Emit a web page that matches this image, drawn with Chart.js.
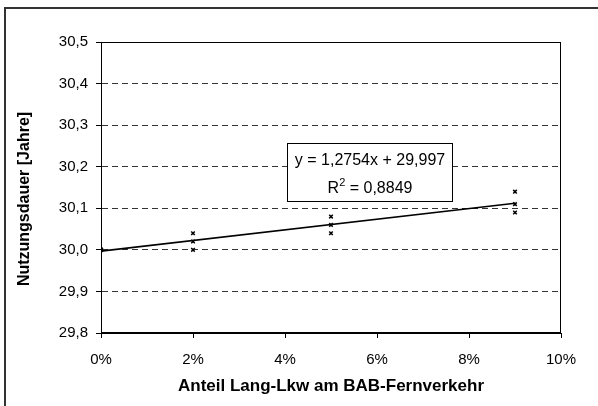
<!DOCTYPE html>
<html><head><meta charset="utf-8">
<script src="https://cdn.jsdelivr.net/npm/chart.js@4/dist/chart.umd.min.js"></script>
<style>html,body{margin:0;padding:0;background:#fff}canvas{display:block}</style>
</head><body>
<canvas id="c" width="598" height="406"></canvas>
<script>
// Data
const shareLangLkw = [0, 0, 0, 2, 2, 2, 5, 5, 5, 9, 9, 9];           // % Anteil Lang-Lkw
const nutzungsdauer = [30.00, 30.00, 30.00, 30.00, 30.02, 30.04, 30.04, 30.06, 30.08, 30.09, 30.11, 30.14];
const trendX = [0, 9];
const trendY = [29.997, 30.112];
const yMin = 29.8, yMax = 30.5, yStep = 0.1;
const xMin = 0, xMax = 10, xStep = 2;
const xTitle = 'Anteil Lang-Lkw am BAB-Fernverkehr';
const yTitle = 'Nutzungsdauer [Jahre]';
const eqLine1 = 'y = 1,2754x + 29,997';
const eqLine2a = 'R', eqLine2sup = '2', eqLine2b = ' = 0,8849';

const FONT = "'Liberation Sans', Arial, sans-serif";

const decor = {
  id: 'decor',
  beforeDraw(chart) {
    const ctx = chart.ctx;
    ctx.save();
    ctx.fillStyle = '#fff';
    ctx.fillRect(0, 0, chart.width, chart.height);
    ctx.strokeStyle = '#333';
    ctx.lineWidth = 2;
    ctx.strokeRect(5, 8, 700, 500);
    ctx.restore();
  },
  afterDraw(chart) {
    const ctx = chart.ctx;
    const a = chart.chartArea;
    ctx.save();
    // plot border
    ctx.strokeStyle = '#000';
    ctx.lineWidth = 1;
    ctx.strokeRect(Math.round(a.left) + 0.5, Math.round(a.top) + 0.5, Math.round(a.right - a.left) - 1, Math.round(a.bottom - a.top) - 1);
    // y-axis title
    ctx.fillStyle = '#000';
    ctx.font = "bold 16px " + FONT;
    ctx.textAlign = 'center';
    ctx.textBaseline = 'middle';
    ctx.translate(25, 199);
    ctx.rotate(-Math.PI / 2);
    ctx.fillText(yTitle, 0, 0);
    ctx.restore();
    // equation box
    ctx.save();
    ctx.fillStyle = '#fff';
    ctx.fillRect(287, 143, 165, 58);
    ctx.strokeStyle = '#000';
    ctx.lineWidth = 1;
    ctx.strokeRect(287.5, 143.5, 165, 58);
    ctx.fillStyle = '#000';
    ctx.font = "16px " + FONT;
    ctx.textBaseline = 'alphabetic';
    ctx.textAlign = 'center';
    ctx.fillText(eqLine1, 370, 165);
    const wR = ctx.measureText(eqLine2a).width;
    ctx.font = "11px " + FONT;
    const wS = ctx.measureText(eqLine2sup).width;
    ctx.font = "16px " + FONT;
    const wB = ctx.measureText(eqLine2b).width;
    let x0 = 370 - (wR + wS + wB) / 2;
    ctx.textAlign = 'left';
    ctx.fillText(eqLine2a, x0, 193);
    ctx.font = "11px " + FONT;
    ctx.fillText(eqLine2sup, x0 + wR, 186);
    ctx.font = "16px " + FONT;
    ctx.fillText(eqLine2b, x0 + wR + wS, 193);
    ctx.restore();
  }
};

new Chart(document.getElementById('c'), {
  type: 'scatter',
  data: {
    datasets: [
      {
        label: 'Nutzungsdauer',
        data: shareLangLkw.map((x, i) => ({ x: x, y: nutzungsdauer[i] })),
        pointStyle: 'crossRot',
        radius: 2.5,
        borderColor: '#000',
        backgroundColor: '#000',
        borderWidth: 1.5,
        showLine: false,
        order: 1
      },
      {
        label: 'Trend',
        data: trendX.map((x, i) => ({ x: x, y: trendY[i] })),
        showLine: true,
        borderColor: '#000',
        borderWidth: 1.6,
        pointRadius: 0,
        order: 2
      }
    ]
  },
  options: {
    responsive: false,
    animation: false,
    devicePixelRatio: 1,
    layout: { padding: { left: 0, top: 42, right: 37, bottom: 0 } },
    plugins: { legend: { display: false }, tooltip: { enabled: false } },
    scales: {
      x: {
        type: 'linear',
        min: xMin, max: xMax,
        afterFit(s) { s.height = 73; },
        ticks: {
          stepSize: xStep,
          color: '#000',
          font: { family: FONT, size: 15 },
          padding: 13,
          callback: v => v + '%'
        },
        grid: { drawOnChartArea: false, drawTicks: true, tickLength: 5, tickColor: '#000', color: '#000' },
        border: { display: true, color: '#000', width: 1 },
        title: {
          display: true, text: xTitle, color: '#000',
          font: { family: FONT, size: 17, weight: 'bold' },
          padding: { top: 0, bottom: 9 }
        }
      },
      y: {
        type: 'linear',
        min: yMin, max: yMax,
        afterFit(s) { s.width = 101; },
        ticks: {
          stepSize: yStep,
          color: '#000',
          font: { family: FONT, size: 15 },
          padding: 8,
          callback: v => v.toFixed(1).replace('.', ',')
        },
        grid: {
          color: ctx => {
            const v = ctx.tick ? ctx.tick.value : null;
            if (v === null) return 'rgba(0,0,0,0)';
            if (Math.abs(v - yMin) < 1e-6 || Math.abs(v - yMax) < 1e-6) return 'rgba(0,0,0,0)';
            return '#333';
          },
          drawTicks: true, tickLength: 5, tickColor: '#000', tickBorderDash: [],
          lineWidth: 1
        },
        border: { display: true, color: '#000', width: 1, dash: [6, 4] },
        title: { display: false }
      }
    }
  },
  plugins: [decor]
});
</script>
</body></html>
